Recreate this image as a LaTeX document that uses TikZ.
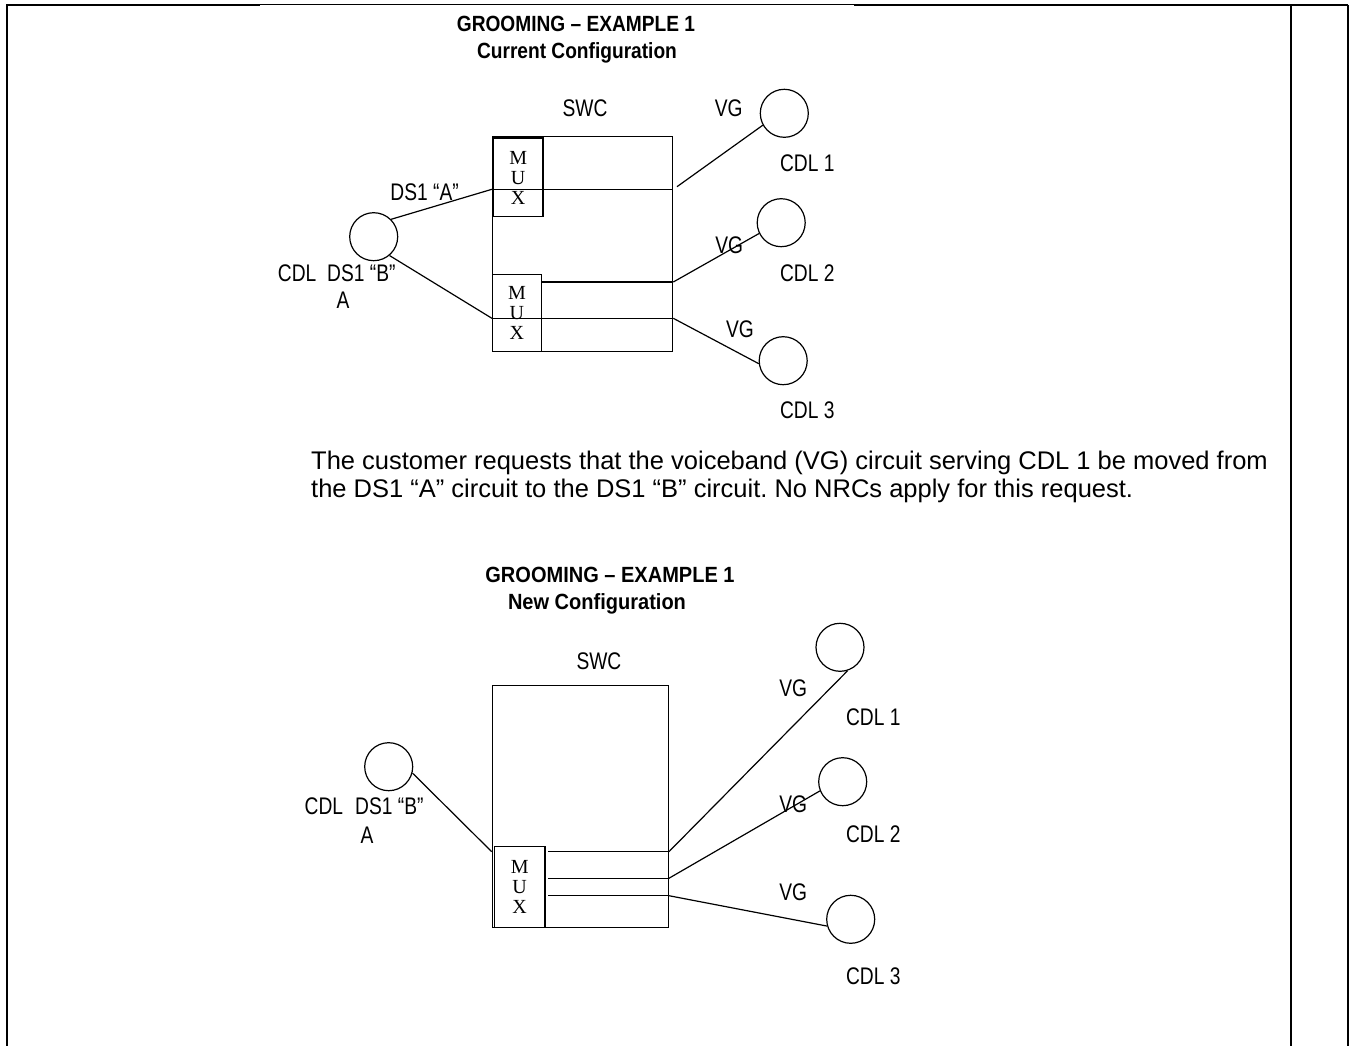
\documentclass[tikz,border=0pt]{standalone}
\usepackage{fontspec}
\setmainfont{Liberation Sans}
\newfontfamily\narrowfont[FakeStretch=0.8]{Liberation Sans}
\newfontfamily\titlefont[FakeStretch=0.87]{Liberation Sans}
\newfontfamily\titlefontb[FakeStretch=0.91]{Liberation Sans}
\newfontfamily\muxfont{Liberation Serif}
\usepackage{tikz}
\usetikzlibrary{calc,positioning}
\frenchspacing
\tikzset{
  wire/.style={line width=1.2pt},
  frame/.style={line width=2.4pt},
  cdl/.style={draw, circle, minimum size=48pt, inner sep=0pt, line width=1.2pt},
  swc/.style={draw, rectangle, inner sep=0pt, line width=1.2pt},
  mux/.style={draw, rectangle, inner sep=0pt, line width=1.2pt, align=center,
    font=\muxfont\fontsize{20}{20}\selectfont},
  lbl/.style={font=\narrowfont\fontsize{24}{24}\selectfont, inner sep=0pt, text height=17.2pt, text depth=0pt},
  ttl/.style={font=\titlefont\bfseries\fontsize{22}{22}\selectfont, inner sep=0pt, text height=15.8pt, text depth=0pt},
  ttlb/.style={ttl, font=\titlefontb\bfseries\fontsize{22}{22}\selectfont},
  para/.style={font=\fontsize{25.5}{28}\selectfont, inner sep=0pt, anchor=base west}
}
\begin{document}
\begin{tikzpicture}[x=1pt,y=-1pt]
\useasboundingbox (0,0) rectangle (1353,1046);
\draw[frame] (7,1046) -- (7,5) -- (260,5);
\draw[line width=1pt] (260,5) -- (854,5);
\draw[frame] (854,5) -- (1348,5);
\draw[frame] (1291,5) -- (1291,1046);
\draw[frame] (1348,5) -- (1348,1046);

\node[ttl] (T1) at (576,24) {GROOMING – EXAMPLE 1};
\node[ttl] (T2) at (577,50.5) {Current Configuration};
\node[swc, minimum width=180.2pt, minimum height=214.6pt] (S1) at (582.6,244) {};
\node[mux, minimum width=49.7pt, minimum height=78.4pt] (M1) at (518.2,177.5) {M\\U\\X};
\draw[line width=2.4pt] (M1.south west) -- (M1.north west) -- (M1.north east);
\node[mux, minimum width=48.8pt, minimum height=76.6pt] (M2) at (516.9,313) {M\\U\\X};
\node[cdl] (CA) at (373.7,236.7) {};
\node[cdl] (C1) at (784.3,113.3) {};
\node[cdl] (C2) at (781.2,222.7) {};
\node[cdl] (C3) at (783.2,360.7) {};
\node[lbl] (SW1) at (585,108) {SWC};
\node[lbl] (DA) at (424.6,191.7) {DS1 “A”};
\node[lbl, anchor=east] (CL1) at (316.6,273.3) {CDL};
\node[lbl, anchor=west] (DB1) at (327,273.3) {DS1 “B”};
\node[lbl] (AL1) at (343,300) {A};
\node[lbl] (V1) at (728.8,107.5) {VG};
\node[lbl] (V2) at (729.2,245.3) {VG};
\node[lbl] (V3) at (740,328.8) {VG};
\node[lbl] (N1) at (807.3,163.3) {CDL 1};
\node[lbl] (N2) at (807.3,272.5) {CDL 2};
\node[lbl] (N3) at (807.3,410) {CDL 3};
\coordinate (L1) at (0,189.3);
\coordinate (L2) at (0,282);
\coordinate (L3) at (0,318.3);
\coordinate (P1) at (677,186.7);
\draw[wire] (S1.west |- L1) -- (S1.east |- L1);
\draw[wire] (M2.east |- L2) -- (S1.east |- L2);
\draw[wire] (S1.west |- L3) -- (S1.east |- L3);
\draw[wire] (CA.45) -- (S1.west |- L1);
\draw[wire] (CA.-50) -- (S1.west |- L3);
\draw[wire] (P1) -- (C1.209);
\draw[wire] (S1.east |- L2) -- (C2.206);
\draw[wire] (S1.east |- L3) -- (C3.187);

\node[para] (P) at (311,469.5) {The customer requests that the voiceband (VG) circuit serving CDL 1 be moved from};
\node[para] (Q) at (311,497) {the DS1 “A” circuit to the DS1 “B” circuit. No NRCs apply for this request.};

\node[ttlb] (T3) at (610,575) {GROOMING – EXAMPLE 1};
\node[ttlb] (T4) at (597,601.7) {New Configuration};
\node[swc, minimum width=176pt, minimum height=241.6pt] (S2) at (580.3,806.5) {};
\node[mux, minimum width=50.7pt, minimum height=80.6pt] (M3) at (519.7,887) {M\\U\\X};
\node[cdl] (CB) at (388.7,766.7) {};
\node[cdl] (D1) at (840,647.3) {};
\node[cdl] (D2) at (842.7,781.7) {};
\node[cdl] (D3) at (850.7,919.3) {};
\node[lbl] (SW2) at (598.9,660.8) {SWC};
\node[lbl, anchor=east] (CL2) at (343.3,805.8) {CDL};
\node[lbl, anchor=west] (DB2) at (355,805.8) {DS1 “B”};
\node[lbl] (AL2) at (367,835) {A};
\node[lbl] (V4) at (793.3,688.3) {VG};
\node[lbl] (V5) at (793.3,804) {VG};
\node[lbl] (V6) at (793.3,891.7) {VG};
\node[lbl] (N4) at (873.3,717.3) {CDL 1};
\node[lbl] (N5) at (873.3,834) {CDL 2};
\node[lbl] (N6) at (873.3,975.7) {CDL 3};
\coordinate (K1) at (0,851.7);
\coordinate (K2) at (0,878.3);
\coordinate (K3) at (0,895.7);
\coordinate (Q0) at (548,0);
\draw[wire] (Q0 |- K1) -- (S2.east |- K1);
\draw[wire] (Q0 |- K2) -- (S2.east |- K2);
\draw[wire] (Q0 |- K3) -- (S2.east |- K3);
\draw[wire] (CB.-15) -- (S2.west |- K1);
\draw[wire] (S2.east |- K1) -- (D1.-72);
\draw[wire] (S2.east |- K2) -- (D2.202);
\draw[wire] (S2.east |- K3) -- (D3.196);
\end{tikzpicture}
\end{document}
